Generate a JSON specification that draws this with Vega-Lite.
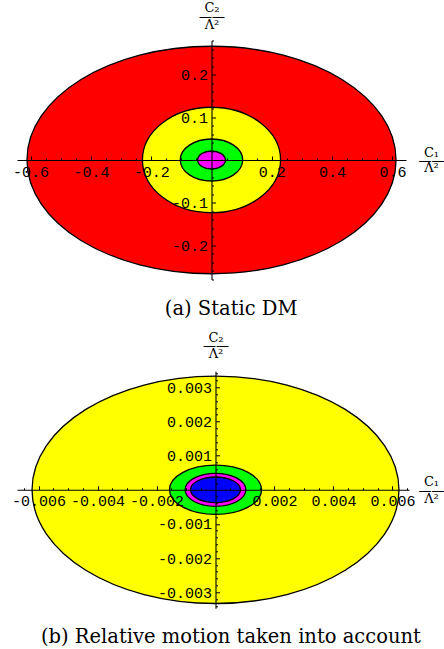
{
  "$schema": "https://vega.github.io/schema/vega-lite/v6.json",
  "background": "white",
  "padding": {"left": 11, "top": 1.5, "right": 0, "bottom": 0},
  "bounds": "flush",
  "spacing": 91.8,
  "config": {
    "view": {"stroke": null},
    "axis": {
      "domainColor": "black", "domainWidth": 1.1, "tickColor": "black", "tickWidth": 1,
      "labelFont": "Liberation Mono", "labelFontSize": 15, "labelColor": "black",
      "labelFlush": false, "labelOverlap": false, "grid": false,
      "titleFont": "DejaVu Serif", "titleFontSize": 13, "titleFontWeight": "normal", "titleColor": "black",
      "titleAngle": 0, "titleAlign": "center", "titleBaseline": "alphabetic"
    }
  },
  "resolve": {"scale": {"x": "independent", "y": "independent", "fill": "independent", "shape": "independent", "size": "independent"}},
  "vconcat": [
    {
      "width": 389, "height": 239,
      "title": {"text": "(a) Static DM", "orient": "bottom", "anchor": "middle", "dx": 19.6, "offset": 28, "font": "DejaVu Serif", "fontSize": 19.5, "fontWeight": "normal", "color": "black", "baseline": "alphabetic"},
      "data": {"values": [
        {"ring": "A", "c1": 0, "c2": 0, "a": 0.612, "b": 0.2675},
        {"ring": "B", "c1": 0, "c2": 0, "a": 0.229, "b": 0.124},
        {"ring": "C", "c1": 0, "c2": 0, "a": 0.1035, "b": 0.0494},
        {"ring": "D", "c1": 0, "c2": 0, "a": 0.046, "b": 0.0212}
      ]},
      "mark": {"type": "point", "filled": true, "stroke": "black", "strokeWidth": 1.3, "opacity": 1},
      "encoding": {
        "x": {"field": "c1", "type": "quantitative",
          "scale": {"domain": [-0.645, 0.645], "nice": false, "zero": false},
          "axis": {"orient": "bottom", "offset": -119.5, "zindex": 1,
            "values": [-0.6,-0.55,-0.5,-0.45,-0.4,-0.35,-0.3,-0.25,-0.2,-0.15,-0.1,-0.05,0.05,0.1,0.15,0.2,0.25,0.3,0.35,0.4,0.45,0.5,0.55,0.6],
            "tickSize": {"condition": {"test": "indexof([-0.6,-0.4,-0.2,0.2,0.4,0.6], datum.value) >= 0", "value": -4}, "value": -2},
            "labelPadding": 8,
            "labelExpr": "indexof([-0.6,-0.4,-0.2,0.2,0.4,0.6], datum.value) >= 0 ? (datum.value < 0 ? '-' : '') + format(abs(datum.value), '.1f') : ''",
            "title": ["C₁", "——", "Λ²"], "titleX": 414, "titleY": -3.6, "titleLineHeight": 7.6}},
        "y": {"field": "c2", "type": "quantitative",
          "scale": {"domain": [-0.281, 0.281], "nice": false, "zero": false},
          "axis": {"orient": "left", "offset": -194.5, "zindex": 1,
            "values": [-0.28,-0.26,-0.24,-0.22,-0.2,-0.18,-0.16,-0.14,-0.12,-0.1,-0.08,-0.06,-0.04,-0.02,0.02,0.04,0.06,0.08,0.1,0.12,0.14,0.16,0.18,0.2,0.22,0.24,0.26,0.28],
            "tickSize": {"condition": {"test": "indexof([-0.2,-0.1,0.1,0.2], datum.value) >= 0", "value": -4}, "value": -2},
            "labelPadding": 8,
            "labelExpr": "indexof([-0.2,-0.1,0.1,0.2], datum.value) >= 0 ? (datum.value < 0 ? '-' : '') + format(abs(datum.value), '.1f') : ''",
            "title": ["C₂", "——", "Λ²"], "titleX": 0, "titleY": -28.6, "titleLineHeight": 8.3}},
        "size": {"field": "a", "type": "quantitative", "scale": {"type": "pow", "exponent": 2, "domain": [0, 0.645], "range": [0, 151321]}, "legend": null},
        "shape": {"field": "ring", "type": "nominal", "legend": null, "scale": {"domain": ["A", "B", "C", "D"], "range": [
          "M1,0C1,0.3404 0.5523,0.6164 0,0.6164C-0.5523,0.6164 -1,0.3404 -1,0C-1,-0.3404 -0.5523,-0.6164 0,-0.6164C0.5523,-0.6164 1,-0.3404 1,0Z",
          "M1,0C1,0.4218 0.5523,0.7637 0,0.7637C-0.5523,0.7637 -1,0.4218 -1,0C-1,-0.4218 -0.5523,-0.7637 0,-0.7637C0.5523,-0.7637 1,-0.4218 1,0Z",
          "M1,0C1,0.3718 0.5523,0.6732 0,0.6732C-0.5523,0.6732 -1,0.3718 -1,0C-1,-0.3718 -0.5523,-0.6732 0,-0.6732C0.5523,-0.6732 1,-0.3718 1,0Z",
          "M1,0C1,0.3590 0.5523,0.6501 0,0.6501C-0.5523,0.6501 -1,0.3590 -1,0C-1,-0.3590 -0.5523,-0.6501 0,-0.6501C0.5523,-0.6501 1,-0.3590 1,0Z"
        ]}},
        "fill": {"field": "ring", "type": "nominal", "legend": null, "scale": {"domain": ["A", "B", "C", "D"], "range": ["#ff0000", "#ffff00", "#00ff00", "#ff00ff"]}},
        "order": {"field": "a", "type": "quantitative", "sort": "descending"}
      }
    },
    {
      "width": 392, "height": 237,
      "title": {"text": "(b) Relative motion taken into account", "orient": "bottom", "anchor": "middle", "dx": 17.9, "offset": 29, "font": "DejaVu Serif", "fontSize": 19.5, "fontWeight": "normal", "color": "black", "baseline": "alphabetic"},
      "data": {"values": [
        {"ring": "A", "c1": 0, "c2": 0, "a": 0.00622, "b": 0.00333},
        {"ring": "B", "c1": 0, "c2": 0, "a": 0.00156, "b": 0.00072},
        {"ring": "C", "c1": 0, "c2": 0, "a": 0.00103, "b": 0.000483},
        {"ring": "D", "c1": 0, "c2": 0, "a": 0.000847, "b": 0.000375}
      ]},
      "mark": {"type": "point", "filled": true, "stroke": "black", "strokeWidth": 1.3, "opacity": 1},
      "encoding": {
        "x": {"field": "c1", "type": "quantitative",
          "scale": {"domain": [-0.00673, 0.00656], "nice": false, "zero": false},
          "axis": {"orient": "bottom", "offset": -118.5, "zindex": 1,
            "values": [-0.0065,-0.006,-0.0055,-0.005,-0.0045,-0.004,-0.0035,-0.003,-0.0025,-0.002,-0.0015,-0.001,-0.0005,0.0005,0.001,0.0015,0.002,0.0025,0.003,0.0035,0.004,0.0045,0.005,0.0055,0.006,0.0065],
            "tickSize": {"condition": {"test": "indexof([-0.006,-0.004,-0.002,0.002,0.004,0.006], datum.value) >= 0", "value": -4}, "value": -2},
            "labelPadding": 8,
            "labelExpr": "indexof([-0.006,-0.004,-0.002,0.002,0.004,0.006], datum.value) >= 0 ? (datum.value < 0 ? '-' : '') + format(abs(datum.value), '.3f') : ''",
            "title": ["C₁", "——", "Λ²"], "titleX": 414, "titleY": -4, "titleLineHeight": 8.3}},
        "y": {"field": "c2", "type": "quantitative",
          "scale": {"domain": [-0.00347, 0.00347], "nice": false, "zero": false},
          "axis": {"orient": "left", "offset": -198.5, "zindex": 1,
            "values": [-0.0034,-0.0032,-0.003,-0.0028,-0.0026,-0.0024,-0.0022,-0.002,-0.0018,-0.0016,-0.0014,-0.0012,-0.001,-0.0008,-0.0006,-0.0004,-0.0002,0.0002,0.0004,0.0006,0.0008,0.001,0.0012,0.0014,0.0016,0.0018,0.002,0.0022,0.0024,0.0026,0.0028,0.003,0.0032,0.0034],
            "tickSize": {"condition": {"test": "indexof([-0.003,-0.002,-0.001,0.001,0.002,0.003], datum.value) >= 0", "value": -4}, "value": -2},
            "labelPadding": 8,
            "labelExpr": "indexof([-0.003,-0.002,-0.001,0.001,0.002,0.003], datum.value) >= 0 ? (datum.value < 0 ? '-' : '') + format(abs(datum.value), '.3f') : ''",
            "title": ["C₂", "——", "Λ²"], "titleX": 0, "titleY": -29.4, "titleLineHeight": 8}},
        "size": {"field": "a", "type": "quantitative", "scale": {"type": "pow", "exponent": 2, "domain": [0, 0.007], "range": [0, 170522]}, "legend": null},
        "shape": {"field": "ring", "type": "nominal", "legend": null, "scale": {"domain": ["A", "B", "C", "D"], "range": [
          "M1,0C1,0.3423 0.5523,0.6198 0,0.6198C-0.5523,0.6198 -1,0.3423 -1,0C-1,-0.3423 -0.5523,-0.6198 0,-0.6198C0.5523,-0.6198 1,-0.3423 1,0Z",
          "M1,0C1,0.2951 0.5523,0.5344 0,0.5344C-0.5523,0.5344 -1,0.2951 -1,0C-1,-0.2951 -0.5523,-0.5344 0,-0.5344C0.5523,-0.5344 1,-0.2951 1,0Z",
          "M1,0C1,0.2998 0.5523,0.5429 0,0.5429C-0.5523,0.5429 -1,0.2998 -1,0C-1,-0.2998 -0.5523,-0.5429 0,-0.5429C0.5523,-0.5429 1,-0.2998 1,0Z",
          "M1,0C1,0.2832 0.5523,0.5127 0,0.5127C-0.5523,0.5127 -1,0.2832 -1,0C-1,-0.2832 -0.5523,-0.5127 0,-0.5127C0.5523,-0.5127 1,-0.2832 1,0Z"
        ]}},
        "fill": {"field": "ring", "type": "nominal", "legend": null, "scale": {"domain": ["A", "B", "C", "D"], "range": ["#ffff00", "#00ff00", "#ff00ff", "#0000ff"]}},
        "order": {"field": "a", "type": "quantitative", "sort": "descending"}
      }
    }
  ]
}
